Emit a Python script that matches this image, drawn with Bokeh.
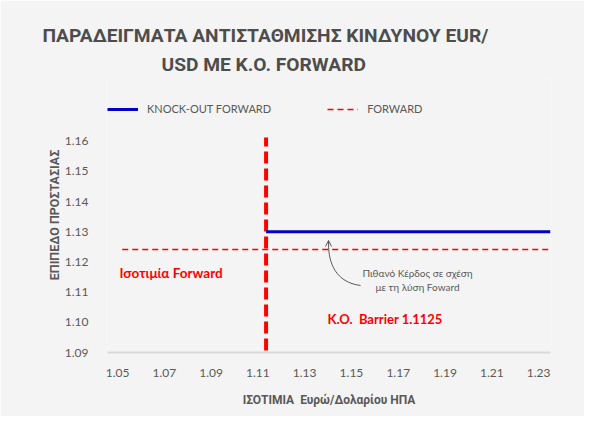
from bokeh.plotting import figure
from bokeh.models import (Range1d, FixedTicker, PrintfTickFormatter, Label, Legend,
                          LegendItem, Arrow, OpenHead, Title)
from bokeh.embed import file_html
from bokeh.resources import INLINE

# ---------------- data ----------------
title_lines = ["ΠΑΡΑΔΕΙΓΜΑΤΑ ΑΝΤΙΣΤΑΘΜΙΣΗΣ ΚΙΝΔΥΝΟΥ EUR/", "USD ΜΕ K.O. FORWARD"]
x_ticks = [1.05, 1.07, 1.09, 1.11, 1.13, 1.15, 1.17, 1.19, 1.21, 1.23]
y_ticks = [1.09, 1.10, 1.11, 1.12, 1.13, 1.14, 1.15, 1.16]

ko_name = "KNOCK-OUT FORWARD"
ko_x = [1.1135, 1.2351]
ko_y = [1.1300, 1.1300]

fwd_name = "FORWARD"
fwd_x = [1.0520, 1.2351]
fwd_y = [1.1241, 1.1241]

barrier_x = [1.1135, 1.1135]
barrier_y = [1.0907, 1.1612]

x_label = "ΙΣΟΤΙΜΙΑ\u00a0 Ευρώ/Δολαρίου ΗΠΑ"
y_label = "ΕΠΙΠΕΔΟ ΠΡΟΣΤΑΣΙΑΣ"
fwd_text = "Ισοτιμία Forward"
barrier_text = "K.O.\u00a0 Barrier 1.1125"
gain_lines = ["Πιθανό Κέρδος σε σχέση", "με τη λύση Foward"]

# ---------------- style ----------------
BG = "#f4f4f4"
GREY = "#595959"
DARK = "#4d4d4d"
RED = "#ff0000"
BLUE = "#0000c8"
HEAD = "Roboto"
SANS = "Lato"

# frame placement (pixels in the picture)
FL, FR, FT, FB = 107, 550, 77, 352
W, H = 584, 416
Y0 = 1.09
PX_PER_Y = 3019.0


def sx(px):
    return px - FL


def sy(py):
    return FB - py


p = figure(width=W, height=H, output_backend="svg", toolbar_location=None,
           x_range=Range1d(1.0457, 1.2351),
           y_range=Range1d(Y0, Y0 + (FB - FT) / PX_PER_Y),
           min_border_left=FL, min_border_right=W - FR, min_border_top=FT,
           min_border_bottom=H - FB,
           background_fill_color=BG, border_fill_color=BG, outline_line_color=None)
p.grid.visible = False

p.xaxis.ticker = FixedTicker(ticks=x_ticks)
p.yaxis.ticker = FixedTicker(ticks=y_ticks)
p.xaxis.formatter = PrintfTickFormatter(format="%.2f")
p.yaxis.formatter = PrintfTickFormatter(format="%.2f")
for ax in (p.xaxis, p.yaxis):
    ax.major_tick_line_color = None
    ax.minor_tick_line_color = None
    ax.major_label_text_font = SANS
    ax.major_label_text_font_size = "12px"
    ax.major_label_text_color = GREY
    ax.axis_label_text_font = HEAD
    ax.axis_label_text_font_style = "bold"
    ax.axis_label_text_color = GREY
p.xaxis.axis_label_text_font_size = "12px"
p.yaxis.axis_label_text_font_size = "12.5px"
p.yaxis.axis_line_color = None
p.xaxis.axis_line_color = "#d9d9d9"
p.xaxis.axis_line_width = 2
p.xaxis.major_label_standoff = 10
p.yaxis.major_label_standoff = 13
p.xaxis.axis_label = x_label
p.yaxis.axis_label = y_label
p.xaxis.axis_label_standoff = 13
p.yaxis.axis_label_standoff = 0

# lines
r_fwd = p.line(fwd_x, fwd_y, line_color=RED, line_width=1.5, line_dash="6 4")
p.line(barrier_x, barrier_y, line_color=RED, line_width=4, line_dash="12 5")
r_ko = p.line(ko_x, ko_y, line_color=BLUE, line_width=3)

# curved arrow annotation
p.bezier(x0=[1.1539], y0=[1.1122], x1=[1.1402], y1=[1.1258],
         cx0=[1.1432], cy0=[1.1132], cx1=[1.1402], cy1=[1.1198],
         line_color=GREY, line_width=1)
p.add_layout(Arrow(end=OpenHead(size=6, line_color=GREY, line_width=1),
                   x_start=1.1402, y_start=1.1255, x_end=1.1402, y_end=1.1271,
                   line_color=GREY, line_width=1))

legend = Legend(items=[LegendItem(label=ko_name, renderers=[r_ko]),
                       LegendItem(label=fwd_name, renderers=[r_fwd])],
                orientation="horizontal", location=(0, sy(108.5) - 10),
                padding=0, margin=0, spacing=56, glyph_width=31, glyph_height=20,
                label_height=20, label_standoff=9, border_line_color=None,
                background_fill_alpha=0, label_text_font=SANS,
                label_text_font_size="11px", label_text_color=GREY)
p.add_layout(legend, "center")

# title (two lines, centred on x = 264 px)
title_offsets = [42 - FL, 161 - FL]
for t, off in reversed(list(zip(title_lines, title_offsets))):
    p.add_layout(Title(text=t, align="left", offset=off, text_font=HEAD,
                       text_font_style="bold", text_font_size="19.2px",
                       text_color=DARK, standoff=4), "above")

p.add_layout(Label(x=sx(119), y=sy(272), x_units="screen", y_units="screen", text=fwd_text,
                   text_baseline="middle", text_font=SANS, text_font_style="bold",
                   text_font_size="13.5px", text_color=RED))
p.add_layout(Label(x=sx(327), y=sy(318), x_units="screen", y_units="screen", text=barrier_text,
                   text_baseline="middle", text_font=SANS, text_font_style="bold",
                   text_font_size="13px", text_color=RED))
for i, t in enumerate(gain_lines):
    p.add_layout(Label(x=sx(417), y=sy(272 + 14 * i), x_units="screen", y_units="screen",
                       text=t, text_align="center", text_baseline="middle",
                       text_font=SANS, text_font_size="10px", text_color=GREY))

open("out.html", "w").write(file_html(p, INLINE))
